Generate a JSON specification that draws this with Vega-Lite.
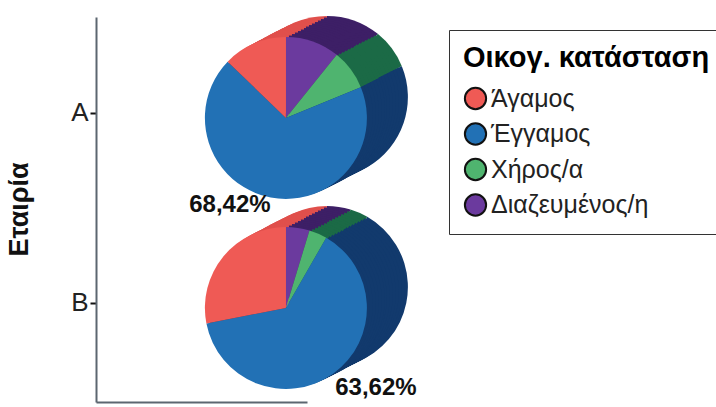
{"$schema":"https://vega.github.io/schema/vega-lite/v6.json","width":211,"height":385,"autosize":"none","padding":{"left":96,"top":17,"right":409,"bottom":5},"background":"white","config":{"view":{"stroke":null},"font":"Liberation Sans"},
"data":{"values":[
{"company":"A","status":"Διαζευμένος/η","rank":1,"pct":10.8},
{"company":"A","status":"Χήρος/α","rank":2,"pct":8.0},
{"company":"A","status":"Έγγαμος","rank":3,"pct":68.42,"label":"68,42%"},
{"company":"A","status":"Άγαμος","rank":4,"pct":12.78},
{"company":"B","status":"Διαζευμένος/η","rank":1,"pct":4.7},
{"company":"B","status":"Χήρος/α","rank":2,"pct":3.6},
{"company":"B","status":"Έγγαμος","rank":3,"pct":63.62,"label":"63,62%"},
{"company":"B","status":"Άγαμος","rank":4,"pct":28.08}]},
"transform":[{"stack":"pct","groupby":["company"],"sort":[{"field":"rank","order":"ascending"}],"as":["t0","t1"]}],
"encoding":{
"x":{"datum":0.9,"type":"quantitative","scale":{"domain":[0,1]},"axis":{"labels":false,"ticks":false,"grid":false,"title":null,"domainColor":"#5c6670","domainWidth":2}},
"y":{"field":"company","type":"nominal","scale":{"type":"point","domain":["A","B"],"padding":0.513,"align":0.492},"axis":{"title":"Εταιρία","titleFontSize":27,"titleFontWeight":"bold","titleColor":"#111","titleX":-63,"titleY":192,"labelFontSize":26,"labelColor":"#222","labelAngle":0,"labelPadding":2,"tickSize":6,"tickWidth":2,"tickColor":"#111","domainColor":"#5c6670","domainWidth":2,"grid":false}}},
"layer":[
{"encoding":{"theta":{"field":"t0","type":"quantitative","scale":{"domain":[0,100]},"stack":null},"theta2":{"field":"t1"},
"fill":{"field":"status","type":"nominal","legend":null,"scale":{"domain":["Διαζευμένος/η","Χήρος/α","Έγγαμος","Άγαμος"],"range":["#3d1f66","#1b6a46","#123a6d","#e0504c"]}}},
"layer":[
{"mark":{"type":"arc","outerRadius":81,"xOffset":41,"yOffset":-16}},
{"mark":{"type":"arc","outerRadius":81,"xOffset":38,"yOffset":-14.5}},
{"mark":{"type":"arc","outerRadius":81,"xOffset":35,"yOffset":-13}},
{"mark":{"type":"arc","outerRadius":81,"xOffset":32,"yOffset":-11.5}},
{"mark":{"type":"arc","outerRadius":81,"xOffset":29,"yOffset":-10}},
{"mark":{"type":"arc","outerRadius":81,"xOffset":26,"yOffset":-8.5}},
{"mark":{"type":"arc","outerRadius":81,"xOffset":23,"yOffset":-7}},
{"mark":{"type":"arc","outerRadius":81,"xOffset":20,"yOffset":-5.5}},
{"mark":{"type":"arc","outerRadius":81,"xOffset":18,"yOffset":-4}},
{"mark":{"type":"arc","outerRadius":81,"xOffset":15,"yOffset":-2.5}},
{"mark":{"type":"arc","outerRadius":81,"xOffset":12,"yOffset":-1}},
{"mark":{"type":"arc","outerRadius":81,"xOffset":9,"yOffset":0.5}},
{"mark":{"type":"arc","outerRadius":81,"xOffset":6,"yOffset":2}},
{"mark":{"type":"arc","outerRadius":81,"xOffset":3,"yOffset":3.5}}]},
{"mark":{"type":"arc","outerRadius":81,"xOffset":0,"yOffset":5},
"encoding":{"theta":{"field":"t0","type":"quantitative","scale":{"domain":[0,100]},"stack":null},"theta2":{"field":"t1"},
"color":{"field":"status","type":"nominal","scale":{"domain":["Άγαμος","Έγγαμος","Χήρος/α","Διαζευμένος/η"],"range":["#ef5a55","#2271b5","#4fb46f","#6b3a9e"]},
"legend":{"title":"Οικογ. κατάσταση","orient":"none","legendX":353,"legendY":13,"padding":14,"strokeColor":"#333","fillColor":"white","titleFontSize":29,"titleFontWeight":"bold","titleColor":"#000","titlePadding":13,"titleLimit":400,"labelFontSize":25,"labelColor":"#222","labelOffset":3,"labelLimit":400,"symbolType":"circle","symbolSize":452,"symbolStrokeColor":"#111","symbolStrokeWidth":2,"rowPadding":4.5}}}},
{"transform":[{"filter":"datum.rank === 3 && datum.company === 'A'"}],"mark":{"type":"text","fontSize":24,"fontWeight":"bold","color":"#111","dx":-56,"dy":92},"encoding":{"text":{"field":"label"}}},
{"transform":[{"filter":"datum.rank === 3 && datum.company === 'B'"}],"mark":{"type":"text","fontSize":24,"fontWeight":"bold","color":"#111","dx":90,"dy":85},"encoding":{"text":{"field":"label"}}}
]}
